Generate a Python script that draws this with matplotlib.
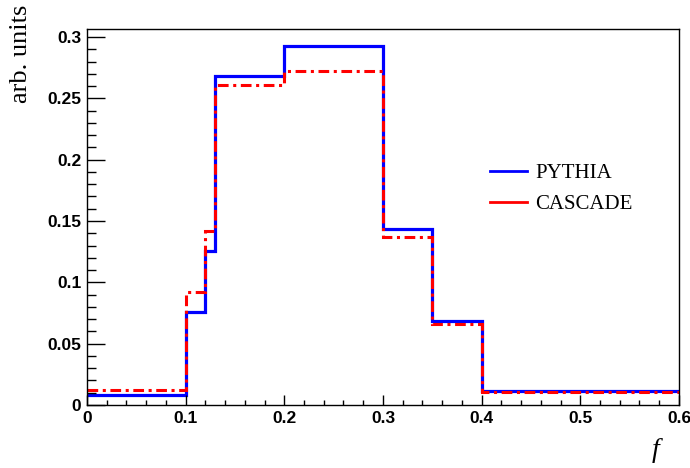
import matplotlib.pyplot as plt
from matplotlib.ticker import MultipleLocator

# bin edges in f and the two histogram contents
edges = [0.0, 0.1, 0.12, 0.13, 0.2, 0.3, 0.35, 0.4, 0.6]
pythia = [0.0082, 0.0762, 0.1252, 0.268, 0.2925, 0.1438, 0.0686, 0.0117]
cascade = [0.0123, 0.0923, 0.1416, 0.2606, 0.272, 0.1367, 0.0659, 0.0104]

fig = plt.figure(figsize=(6.9, 4.68), dpi=100)
ax = fig.add_axes([0.126, 0.1346, 0.858, 0.8034])

ax.stairs(pythia, edges, color='#0000ff', lw=2.3, label='PYTHIA', baseline=None)
ax.stairs(cascade, edges, color='#ff0000', lw=2.2, linestyle=(0, (3.5, 1.5, 1, 1.5)),
          label='CASCADE', baseline=None)

ax.set_xlim(0, 0.6)
ax.set_ylim(0, 0.3065)

ax.xaxis.set_major_locator(MultipleLocator(0.1))
ax.xaxis.set_minor_locator(MultipleLocator(0.02))
ax.yaxis.set_major_locator(MultipleLocator(0.05))
ax.yaxis.set_minor_locator(MultipleLocator(0.01))
ax.set_xticks([0, 0.1, 0.2, 0.3, 0.4, 0.5, 0.6], ['0', '0.1', '0.2', '0.3', '0.4', '0.5', '0.6'])
ax.set_yticks([0, 0.05, 0.1, 0.15, 0.2, 0.25, 0.3], ['0', '0.05', '0.1', '0.15', '0.2', '0.25', '0.3'])

ax.tick_params(axis='both', which='both', direction='in', top=False, right=False, width=1)
ax.tick_params(axis='y', which='major', length=13, pad=4)
ax.tick_params(axis='y', which='minor', length=6.5)
ax.tick_params(axis='x', which='major', length=7.5, pad=4)
ax.tick_params(axis='x', which='minor', length=3.8)
for lab in ax.get_xticklabels() + ax.get_yticklabels():
    lab.set_family('Liberation Sans')
    lab.set_weight('bold')
    lab.set_fontsize(12.5)
for sp in ax.spines.values():
    sp.set_linewidth(1)

fig.text(0.03, 0.99, 'arb. units', rotation=90, ha='center', va='top',
         family='Liberation Serif', fontsize=19)
fig.text(0.95, 0.01, 'f', ha='center', va='bottom', family='Liberation Serif',
         style='italic', fontsize=20)

leg = ax.legend(loc='center left', bbox_to_anchor=(0.681, 0.575), frameon=False,
                prop={'family': 'Liberation Serif', 'size': 15}, handlelength=1.78,
                handletextpad=0.4, labelspacing=0.55, borderpad=0, borderaxespad=0)
for h in leg.get_lines():
    h.set_linestyle('-')
    h.set_linewidth(2)

fig.savefig('out.png', dpi=100)
